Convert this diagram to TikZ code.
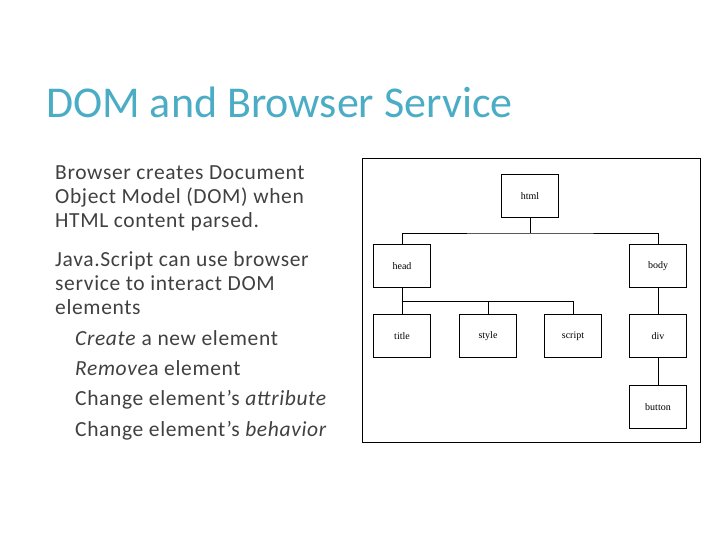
\documentclass[tikz,border=0pt]{standalone}
\usepackage{fontspec}
\setmainfont{Carlito}
\newfontfamily\serif{Liberation Serif}
\newfontfamily\spaced[LetterSpace=3]{Carlito}
\definecolor{titlec}{HTML}{4BACC6}
\definecolor{txt}{HTML}{404040}
\begin{document}
\begin{tikzpicture}[x=1pt,y=-1pt,
  box/.style={draw,line width=0.8pt,minimum width=57pt,minimum height=43pt,inner sep=0pt,font=\serif\fontsize{10}{10}\selectfont},
  conn/.style={line width=0.8pt},
  txtl/.style={anchor=base west,inner sep=0pt,text=txt,font=\spaced\fontsize{21.5}{24}\selectfont}]
\useasboundingbox (0,0) rectangle (720,540);
\node[anchor=base west,inner sep=0pt,text=titlec,font=\fontsize{44}{46}\selectfont] (t) at (46,118) {DOM and Browser Service};
\node[txtl] (l1) at (55,180) {Browser creates Document};
\node[txtl] (l2) at (55,204) {Object Model (DOM) when};
\node[txtl] (l3) at (55,228) {HTML content parsed.};
\node[txtl] (l4) at (55,266) {Java.Script can use browser};
\node[txtl] (l5) at (55,290) {service to interact DOM};
\node[txtl] (l6) at (55,314) {elements};
\node[txtl] (l7) at (75,345) {\textit{Create} a new element};
\node[txtl] (l8) at (75,375) {\textit{Remove}a element};
\node[txtl] (l9) at (75,405) {Change element’s \textit{attribute}};
\node[txtl] (l10) at (75,436) {Change element’s \textit{behavior}};
\draw[line width=1pt] (362,159) rectangle (700,442);
\node[box] (html) at (530,196) {html};
\node[box] (head) at (402,266) {head};
\node[box] (body) at (658,266) {body};
\node[box] (title) at (402,336) {title};
\node[box] (style) at (488,336) {style};
\node[box] (script) at (573,336) {script};
\node[box] (div) at (658,336) {div};
\node[box] (button) at (658,407) {button};
\coordinate (b1) at (530,233);
\coordinate (b2) at (402,301);
\draw[conn] (html) -- (b1);
\draw[conn] (head.north) |- (b1) -| (body.north);
\draw[conn] (head) -- (b2);
\draw[conn] (title.north) |- (b2) -| (script.north);
\draw[conn] (style.north) -- (style.north |- b2);
\draw[conn] (body) -- (div);
\draw[conn] (div) -- (button);
\end{tikzpicture}
\end{document}
